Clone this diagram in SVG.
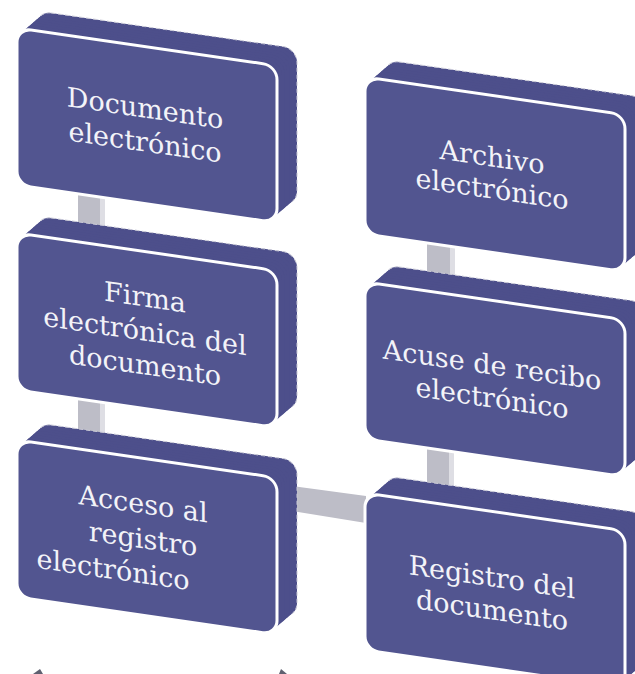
<svg xmlns="http://www.w3.org/2000/svg" xmlns:xlink="http://www.w3.org/1999/xlink" width="635" height="674" viewBox="0 0 635 674">
<style>
.face{fill:#525590}
.ext{fill:#4d4f8b}
.front{fill:#525590;stroke:#ffffff;stroke-width:3}
.back{fill:#4d4f8b;stroke:#c9c9d6;stroke-width:1;stroke-dasharray:4 3}
.lbl{font-family:"DejaVu Serif","Liberation Serif",serif;font-size:27px;fill:#f3f3f8;text-anchor:middle}
.bar{fill:#bdbdc7}
.barside{fill:#dedee4}
.tip{fill:#5f6070}
</style>
<defs>
<g id="box3d">
<rect class="back" x="20" y="-20" width="260" height="157" rx="14"/>
<rect class="ext" x="17.5" y="-17.5" width="260" height="157" rx="14"/>
<rect class="ext" x="15" y="-15" width="260" height="157" rx="14"/>
<rect class="ext" x="12.5" y="-12.5" width="260" height="157" rx="14"/>
<rect class="ext" x="10" y="-10" width="260" height="157" rx="14"/>
<rect class="ext" x="7.5" y="-7.5" width="260" height="157" rx="14"/>
<rect class="ext" x="5" y="-5" width="260" height="157" rx="14"/>
<rect class="ext" x="2.5" y="-2.5" width="260" height="157" rx="14"/>
<rect class="front" x="0" y="0" width="260" height="157" rx="14"/>
</g>
</defs>
<rect width="635" height="674" fill="#ffffff"/>
<g id="connectors">
<rect class="bar" x="78" y="188" width="22" height="40"/>
<rect class="barside" x="100" y="188" width="5" height="40"/>
<rect class="bar" x="78" y="393" width="22" height="40"/>
<rect class="barside" x="100" y="393" width="5" height="40"/>
<rect class="bar" x="427" y="237" width="23" height="40"/>
<rect class="barside" x="450" y="237" width="5" height="40"/>
<rect class="bar" x="427" y="446" width="22" height="40"/>
<rect class="barside" x="449" y="446" width="5" height="40"/>
<polygon class="bar" points="292,486 366,496 366,523 292,511"/>
</g>
<g id="node-documento" transform="matrix(1,0.145,0,1,17,28)">
<use xlink:href="#box3d"/>
<text class="lbl" x="128" y="71">Documento</text>
<text class="lbl" x="128" y="105">electrónico</text>
</g>
<g id="node-firma" transform="matrix(1,0.145,0,1,17,233)">
<use xlink:href="#box3d"/>
<text class="lbl" x="128" y="55">Firma</text>
<text class="lbl" x="128" y="89">electrónica del</text>
<text class="lbl" x="128" y="123">documento</text>
</g>
<g id="node-acceso" transform="matrix(1,0.145,0,1,17,440)">
<use xlink:href="#box3d"/>
<text class="lbl" x="126" y="55">Acceso al</text>
<text class="lbl" x="126" y="90">registro</text>
<text class="lbl" x="96" y="125">electrónico</text>
</g>
<g id="node-archivo" transform="matrix(1,0.145,0,1,365,77)">
<use xlink:href="#box3d"/>
<text class="lbl" x="127" y="71">Archivo</text>
<text class="lbl" x="127" y="103">electrónico</text>
</g>
<g id="node-acuse" transform="matrix(1,0.145,0,1,365,282)">
<use xlink:href="#box3d"/>
<text class="lbl" x="127" y="74">Acuse de recibo</text>
<text class="lbl" x="127" y="107">electrónico</text>
</g>
<g id="node-registro" transform="matrix(1,0.145,0,1,365,493)">
<use xlink:href="#box3d"/>
<text class="lbl" x="127" y="75">Registro del</text>
<text class="lbl" x="127" y="108">documento</text>
</g>
<polygon class="tip" points="33,674 40,669 43,674"/>
<polygon class="tip" points="279,674 281,669 287,674"/>
</svg>
